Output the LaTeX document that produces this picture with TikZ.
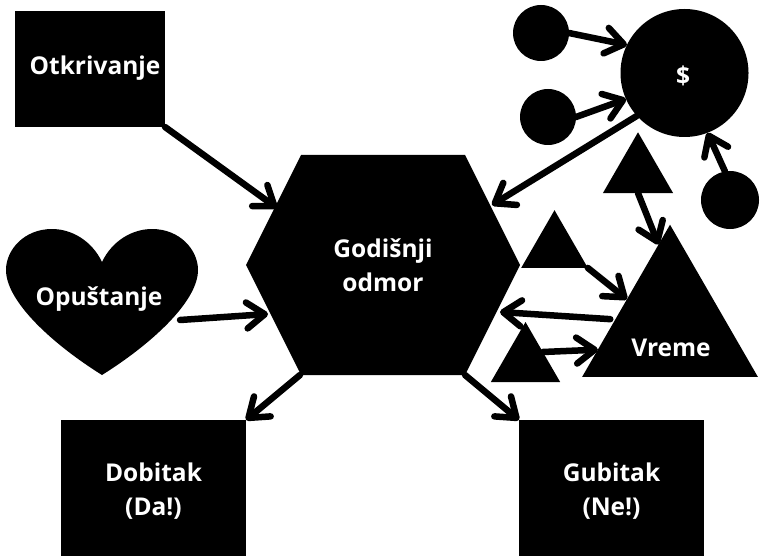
\documentclass[tikz,border=0pt]{standalone}
\usepackage{fontspec}
\setmainfont{Open Sans}
\usetikzlibrary{arrows.meta}
\usetikzlibrary{shapes.geometric}

\tikzset{
	word/.style={white, font=\fontsize{24.5}{34.5}\selectfont\bfseries, align=center},
	box/.style={fill=black, inner sep=0pt, outer sep=0pt},
	dot/.style={circle, fill=black, inner sep=0pt, outer sep=0pt},
	peak/.style={regular polygon, regular polygon sides=3, fill=black, inner sep=0pt, outer sep=0pt},
	link/.style={line width=6.5pt, line cap=round, -{Straight Barb[round, length=18pt, width=26pt]}},
}

\begin{document}
\begin{tikzpicture}[x=1pt, y=-1pt]

	\useasboundingbox (0,0) rectangle (762,556);

	\node [box, minimum width=150pt, minimum height=116pt] (otk) at (90,69) {};
	\node [box, minimum width=185pt, minimum height=136pt] (dob) at (153.5,488) {};
	\node [box, minimum width=185pt, minimum height=136pt] (gub) at (611.5,488) {};

	\fill (246,265) -- (301,155) -- (465,155) -- (520,265) -- (465,375) -- (301,375) -- cycle;
	\fill (102,262) .. controls (112,241) and (132,229) .. (152,229)
		.. controls (180,229) and (198,250) .. (198,270)
		.. controls (198,302) and (150,345) .. (102,375)
		.. controls (54,345) and (6,302) .. (6,270)
		.. controls (6,250) and (24,229) .. (52,229)
		.. controls (72,229) and (92,241) .. (102,262) -- cycle;

	\node [dot, minimum size=128pt] (money) at (684.5,73) {};
	\node [dot, minimum size=56pt] (coina) at (541,33) {};
	\node [dot, minimum size=56pt] (coinb) at (548,117) {};
	\node [dot, minimum size=58pt] (coinc) at (730,200) {};

	\node [peak, minimum size=203pt] (vreme) at (670,326.2) {};
	\node [peak, minimum size=81pt] (peaka) at (638,172.8) {};
	\node [peak, minimum size=77pt] (peakb) at (554.5,248.7) {};
	\node [peak, minimum size=80pt] (peakc) at (525.5,362) {};

	\coordinate (hexul) at (277,208);
	\coordinate (hexur) at (492,205);
	\coordinate (hexl) at (268,314);
	\coordinate (hexr) at (500,312);
	\coordinate (hexll) at (300,375);
	\coordinate (hexlr) at (465,375);
	\coordinate (heartr) at (180,320);

	\node [word] (otktext) at (95,68) {Otkrivanje};
	\node [word] (hextext) at (383,265) {Godišnji\\odmor};
	\node [word] (hearttext) at (99,299) {Opuštanje};
	\node [word] (dobtext) at (153.5,491) {Dobitak\\(Da!)};
	\node [word] (gubtext) at (611.5,491) {Gubitak\\(Ne!)};
	\node [word] (moneytext) at (683,76) {\$};
	\node [word] (vremetext) at (671,348) {Vreme};

	\draw [link] (otk.south east) -- (hexul);
	\draw [link] (heartr) -- (hexl);
	\draw [link] (hexll) -- (dob.north east);
	\draw [link] (hexlr) -- (gub.north west);
	\draw [link] (money.222) -- (hexur);
	\draw [link] (coina.east) -- (money.154);
	\draw [link] (coinb.east) -- (money.204);
	\draw [link] (coinc.100) -- (money.291);
	\draw [link] (peaka.south) -- (vreme.98);
	\draw [link] (peakb.corner 3) -- (vreme.148);
	\draw [link, shorten <=5pt] (vreme.173) -- (hexr);
	\draw [link] (peakc.30) -- (vreme.198);

\end{tikzpicture}
\end{document}
